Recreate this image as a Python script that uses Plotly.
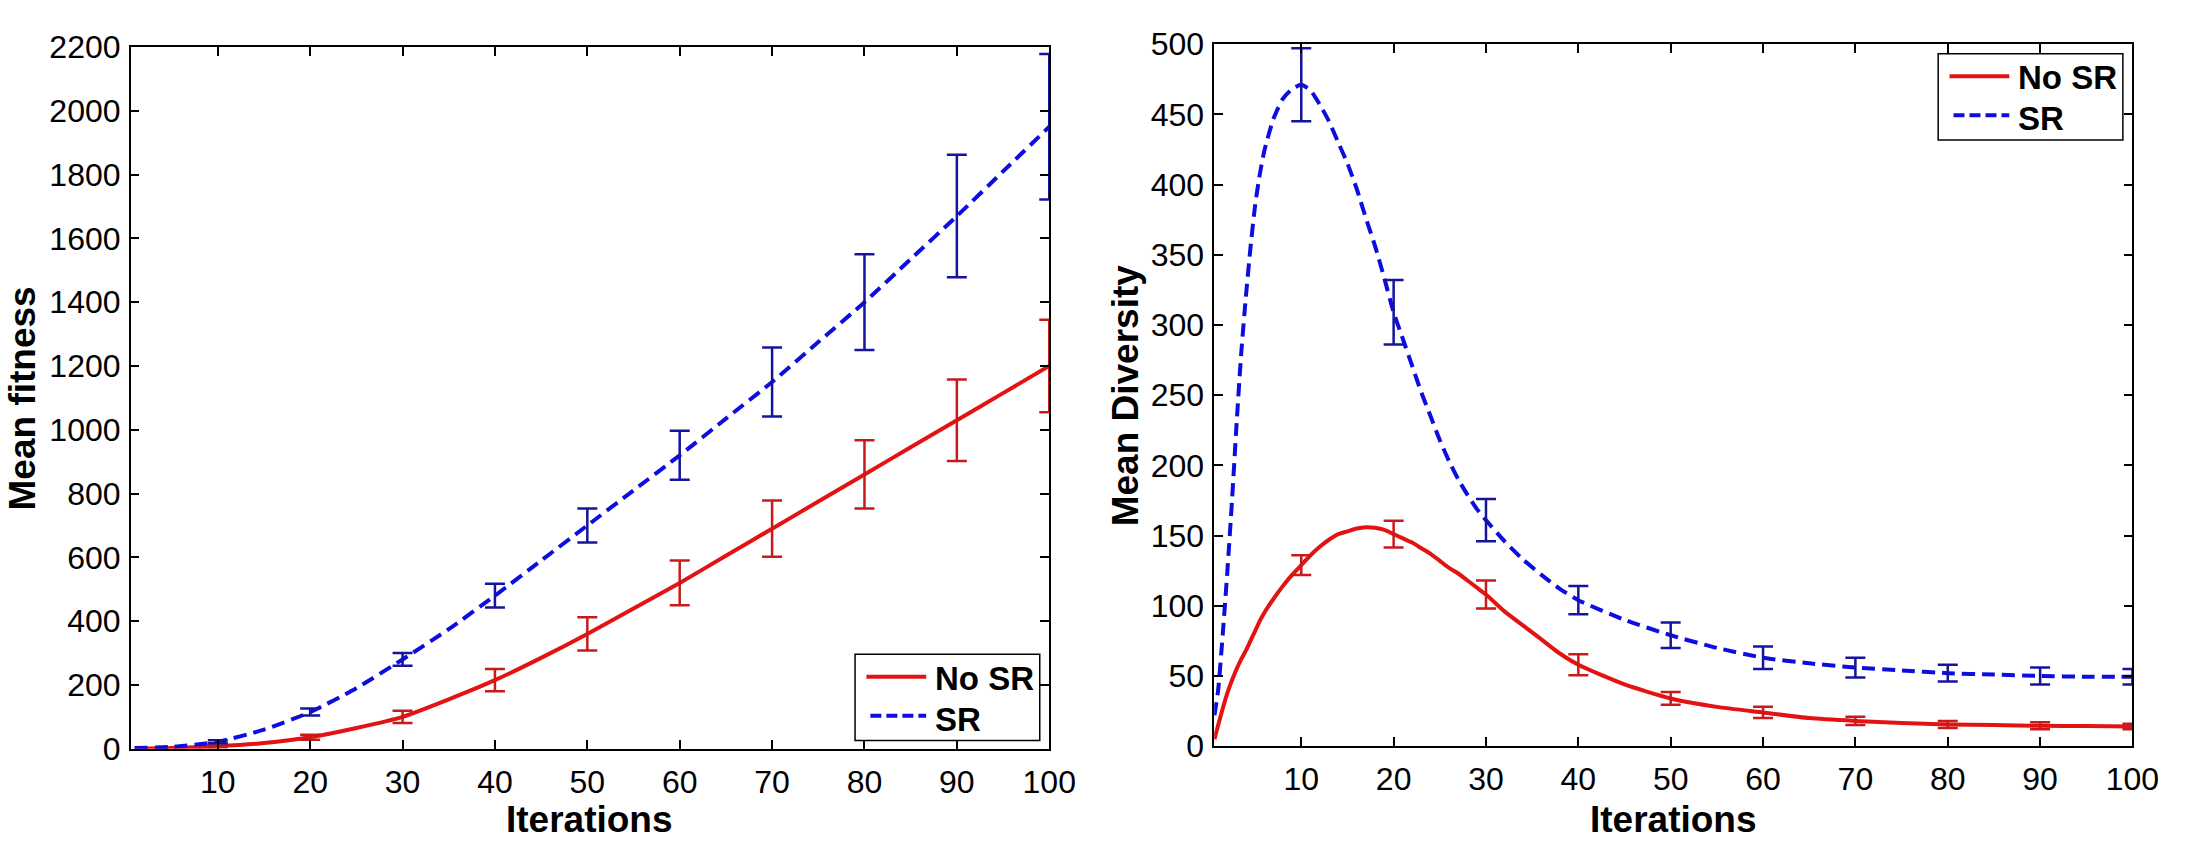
import plotly.graph_objects as go

W, H = 2196, 852

# ---------------- data: Mean fitness (left) ----------------
fit_iter = [1, 5, 10, 15, 20, 25, 30, 35, 40, 45, 50, 55, 60, 65, 70, 75, 80, 85, 90, 95, 100]
fit_no_sr = [0, 2, 8, 18, 36, 65, 100, 155, 215, 285, 360, 440, 520, 605, 690, 775, 860, 945, 1030, 1115, 1200]
fit_sr = [2, 6, 22, 60, 115, 190, 280, 375, 480, 590, 700, 810, 920, 1035, 1150, 1275, 1400, 1535, 1670, 1810, 1950]

bar_iter = [10, 20, 30, 40, 50, 60, 70, 80, 90, 100]
fit_no_sr_mean = [8, 36, 100, 215, 360, 520, 690, 860, 1030, 1200]
fit_no_sr_err = [3, 8, 19, 35, 52, 70, 88, 107, 128, 145]
fit_sr_mean = [22, 115, 280, 480, 700, 920, 1150, 1400, 1670, 1950]
fit_sr_err = [5, 11, 20, 37, 53, 77, 108, 150, 192, 228]

# ---------------- data: Mean Diversity (right) ----------------
div_iter = [0.6, 1, 1.5, 2, 2.5, 3, 3.5, 4, 4.5, 5, 5.5, 6,
            7, 8, 9, 10, 11, 12, 13, 14, 15, 16, 17, 18, 19, 20, 21, 22, 23, 24, 25, 26, 27, 28, 29, 30,
            32, 34, 36, 38, 40, 45, 50, 55, 60, 65, 70, 75, 80, 85, 90, 95, 100]
div_no_sr = [5, 15, 27, 38, 47, 55, 62, 68, 75, 82, 89, 95,
             105, 114, 122, 129, 136, 142, 147, 151, 153, 155, 156, 155.5, 154, 151, 148, 145, 141, 137,
             132, 127, 123, 118, 113, 108,
             96, 86, 76, 66, 58, 44, 34, 28, 24, 20, 18, 16.5, 15.5, 15, 14.5, 14.3, 14]
div_sr = [22, 40, 80, 125, 175, 230, 280, 320, 355, 385, 407, 424,
          447, 461, 468, 471, 467, 457, 445, 430, 415, 397, 376, 356, 333, 309, 290, 271, 252, 235,
          218, 203, 190, 179, 169, 161,
          146, 133, 122, 112, 104, 90, 79, 70, 63, 59, 56, 54, 52, 51, 50, 49.5, 49.5]

div_no_sr_mean = [129, 151, 108, 58, 34, 24, 18, 15.5, 14.5, 14]
div_no_sr_err = [7, 9.5, 10, 7.5, 4.5, 4, 3, 2.5, 2.5, 2]
div_sr_mean = [471, 309, 161, 104, 79, 63, 56, 52, 50, 49.5]
div_sr_err = [26, 23, 15, 10, 9, 8, 7, 6, 6, 5.5]

series_names = ["No SR", "SR"]

# ---------------- styles ----------------
RED = "#e41313"
RED_BAR = "#c81a1a"
BLUE = "#0d0de0"
BLUE_BAR = "#14149c"
TICK_FONT = dict(family="Liberation Sans, Arial, sans-serif", size=32, color="black")
TITLE_FONT = dict(family="Liberation Sans Narrow, Arial Narrow, Liberation Sans, sans-serif",
                  size=37, color="black")
LEG_FONT = dict(family="Liberation Sans, Arial, sans-serif", size=33, color="black")


def px(x):
    return x / W


def py(y):
    return 1 - y / H


fig = go.Figure()


def add_panel(xa, ya, it, s1, s2, m1, e1, m2, e2):
    fig.add_trace(go.Scatter(x=it, y=s1, mode="lines", name=series_names[0],
                             line=dict(color=RED, width=4, shape="spline", smoothing=0.6),
                             xaxis=xa, yaxis=ya, showlegend=False))
    fig.add_trace(go.Scatter(x=it, y=s2, mode="lines", name=series_names[1],
                             line=dict(color=BLUE, width=4, dash="13px,7px", shape="spline", smoothing=0.6),
                             xaxis=xa, yaxis=ya, showlegend=False))
    fig.add_trace(go.Scatter(x=bar_iter, y=m1, mode="markers", marker=dict(size=1, color=RED_BAR, opacity=0),
                             error_y=dict(type="data", array=e1, color=RED_BAR, thickness=2.5, width=10),
                             xaxis=xa, yaxis=ya, showlegend=False, hoverinfo="skip"))
    fig.add_trace(go.Scatter(x=bar_iter, y=m2, mode="markers", marker=dict(size=1, color=BLUE_BAR, opacity=0),
                             error_y=dict(type="data", array=e2, color=BLUE_BAR, thickness=2.5, width=10),
                             xaxis=xa, yaxis=ya, showlegend=False, hoverinfo="skip"))


add_panel("x", "y", fit_iter, fit_no_sr, fit_sr, fit_no_sr_mean, fit_no_sr_err, fit_sr_mean, fit_sr_err)
add_panel("x2", "y2", div_iter, div_no_sr, div_sr, div_no_sr_mean, div_no_sr_err, div_sr_mean, div_sr_err)

axis_common = dict(showline=True, linecolor="black", linewidth=1.5, mirror="allticks",
                   ticks="inside", ticklen=9, tickwidth=1.5, tickcolor="black",
                   showgrid=False, zeroline=False, tickfont=TICK_FONT)

fig.update_layout(
    width=W, height=H,
    margin=dict(l=0, r=0, t=0, b=0),
    paper_bgcolor="white", plot_bgcolor="white",
    xaxis=dict(domain=[px(132.3), px(1062.3)], range=[0.57, 100], tickvals=bar_iter,
               ticklabelstandoff=4, **axis_common),
    yaxis=dict(domain=[py(763), py(30.3)], range=[0, 2200], dtick=200, tick0=0,
               ticklabelstandoff=2, **axis_common),
    xaxis2=dict(domain=[px(1229.3), px(2159)], range=[0.57, 100], tickvals=bar_iter,
                ticklabelstandoff=4, anchor="y2", **axis_common),
    yaxis2=dict(domain=[py(760.3), py(27.3)], range=[0, 500], dtick=50, tick0=0,
                ticklabelstandoff=2, anchor="x2", **axis_common),
    showlegend=False,
)

annotations = []
annotations.append(dict(text="<b>Mean fitness</b>", x=px(22.5), y=py(397), xref="paper", yref="paper",
                        textangle=-90, showarrow=False, font=TITLE_FONT, xanchor="center", yanchor="middle"))
annotations.append(dict(text="<b>Mean Diversity</b>", x=px(1139), y=py(394), xref="paper", yref="paper",
                        textangle=-90, showarrow=False, font=TITLE_FONT, xanchor="center", yanchor="middle"))
annotations.append(dict(text="<b>Iterations</b>", x=px(597), y=py(813), xref="paper", yref="paper",
                        showarrow=False, font=TITLE_FONT, xanchor="center", yanchor="top"))
annotations.append(dict(text="<b>Iterations</b>", x=px(1694), y=py(813), xref="paper", yref="paper",
                        showarrow=False, font=TITLE_FONT, xanchor="center", yanchor="top"))

shapes = []


def add_legend(bx0, by0):
    # bx0, by0: top-left pixel of legend box
    shapes.append(dict(type="rect", xref="paper", yref="paper",
                       x0=px(bx0), x1=px(bx0 + 187), y0=py(by0 + 90), y1=py(by0),
                       line=dict(color="black", width=1.5), fillcolor="white", layer="above"))
    shapes.append(dict(type="line", xref="paper", yref="paper",
                       x0=px(bx0 + 11.5), x1=px(bx0 + 72), y0=py(by0 + 23.4), y1=py(by0 + 23.4),
                       line=dict(color=RED, width=4), layer="above"))
    shapes.append(dict(type="line", xref="paper", yref="paper",
                       x0=px(bx0 + 15.5), x1=px(bx0 + 72), y0=py(by0 + 64.2), y1=py(by0 + 64.2),
                       line=dict(color=BLUE, width=4, dash="11px,5px"), layer="above"))
    annotations.append(dict(text="<b>" + series_names[0] + "</b>", x=px(bx0 + 79), y=py(by0 + 25),
                            xref="paper", yref="paper", showarrow=False, font=LEG_FONT,
                            xanchor="left", yanchor="middle"))
    annotations.append(dict(text="<b>" + series_names[1] + "</b>", x=px(bx0 + 79), y=py(by0 + 68),
                            xref="paper", yref="paper", showarrow=False, font=LEG_FONT,
                            xanchor="left", yanchor="middle"))


add_legend(865.7, 664.3)
add_legend(1962.3, 37.3)

fig.update_layout(annotations=annotations, shapes=shapes)

fig.write_html("out.html")
